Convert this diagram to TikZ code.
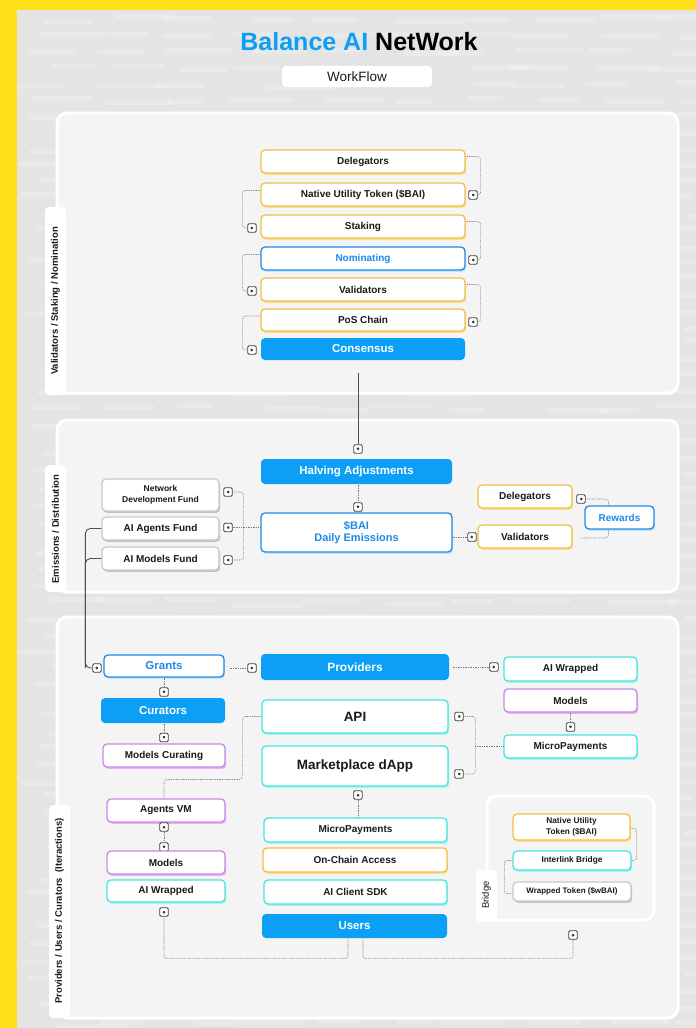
\documentclass[tikz,border=0pt]{standalone}
\usepackage{fontspec}
\setmainfont{Liberation Sans}
\usetikzlibrary{shadows}
\definecolor{yel}{HTML}{FFE01A}
\definecolor{bgg}{HTML}{E4E4E4}
\definecolor{pnl}{HTML}{F4F4F4}
\definecolor{bluef}{HTML}{0BA0F5}
\definecolor{blueb}{HTML}{1E8AE8}
\definecolor{bluesh}{HTML}{C4E4FA}
\definecolor{orng}{HTML}{F4BF45}
\definecolor{orngsh}{HTML}{F9DE9A}
\definecolor{cyn}{HTML}{45E6E0}
\definecolor{cynsh}{HTML}{A8F3EF}
\definecolor{prp}{HTML}{C48BE6}
\definecolor{prpsh}{HTML}{EFAEF2}
\definecolor{gry}{HTML}{C9C9C9}
\definecolor{grysh}{HTML}{C2C2C2}
\definecolor{txt}{HTML}{1A1A1A}
\definecolor{icg}{HTML}{404040}
\definecolor{dotg}{HTML}{7A7A7A}
\definecolor{solg}{HTML}{505050}
\tikzset{
  base/.style={rounded corners=4pt, fill=white, line width=1.3pt, inner sep=0pt, align=center,
    font=\bfseries\fontsize{10}{11.5}\selectfont, text=txt},
  obox/.style={base, draw=orng, drop shadow={shadow xshift=1.2pt, shadow yshift=-1.8pt, fill=orngsh, opacity=1}},
  cbox/.style={base, draw=cyn, drop shadow={shadow xshift=1.2pt, shadow yshift=-1.8pt, fill=cynsh, opacity=1}},
  pbox/.style={base, draw=prp, drop shadow={shadow xshift=1.2pt, shadow yshift=-1.8pt, fill=prpsh, opacity=1}},
  gbox/.style={base, draw=gry, drop shadow={shadow xshift=1.2pt, shadow yshift=-1.8pt, fill=grysh, opacity=1}},
  bbox/.style={base, draw=blueb, text=blueb, drop shadow={shadow xshift=1.2pt, shadow yshift=-1.8pt, fill=bluesh, opacity=1}},
  bfill/.style={base, fill=bluef, draw=none, text=white, font=\bfseries\fontsize{11.5}{13}\selectfont},
  icn/.style={draw=icg, fill=white, rounded corners=1.2pt, minimum size=8.5pt, inner sep=0pt, line width=0.8pt},
  icR/.style={icn, path picture={\fill[icg] ([xshift=-1.4pt,yshift=2pt]path picture bounding box.center) -- ([xshift=1.8pt]path picture bounding box.center) -- ([xshift=-1.4pt,yshift=-2pt]path picture bounding box.center) -- cycle;}},
  icL/.style={icn, path picture={\fill[icg] ([xshift=1.4pt,yshift=2pt]path picture bounding box.center) -- ([xshift=-1.8pt]path picture bounding box.center) -- ([xshift=1.4pt,yshift=-2pt]path picture bounding box.center) -- cycle;}},
  icD/.style={icn, path picture={\fill[icg] ([xshift=-2pt,yshift=1.4pt]path picture bounding box.center) -- ([yshift=-1.8pt]path picture bounding box.center) -- ([xshift=2pt,yshift=1.4pt]path picture bounding box.center) -- cycle;}},
  icU/.style={icn, path picture={\fill[icg] ([xshift=-2pt,yshift=-1.4pt]path picture bounding box.center) -- ([yshift=1.8pt]path picture bounding box.center) -- ([xshift=2pt,yshift=-1.4pt]path picture bounding box.center) -- cycle;}},
  dln/.style={draw=dotg, line width=0.6pt, dash pattern=on 0.8pt off 0.9pt, rounded corners=3pt},
  sln/.style={draw=solg, line width=0.9pt, rounded corners=5pt},
  panel/.style={fill=pnl, draw=white, line width=3pt, rounded corners=10pt},
  tab/.style={fill=white, rounded corners=4pt},
  tabtxt/.style={rotate=90, font=\bfseries\fontsize{9.5}{11}\selectfont, text=txt}
}
\newcommand\bx[7]{\node[#1, minimum width={(#5-#3)*1pt}, minimum height={(#6-#4)*1pt}] (#2) at ({(#3+#5)/2},{(#4+#6)/2}) {#7};}
\begin{document}
\begin{tikzpicture}[x=1pt,y=-1pt]
\useasboundingbox (0,0) rectangle (696,1028);
\fill[yel] (0,0) rectangle (696,1028);
\fill[bgg] (17,10) rectangle (696,1028);
% background stripes
\pgfmathsetseed{11}
\foreach \r in {0,...,62}{
  \foreach \c in {0,...,9}{
    \pgfmathsetmacro{\xx}{17+\c*70+rnd*40}
    \pgfmathsetmacro{\yy}{14+\r*16.2+rnd*6}
    \pgfmathsetmacro{\ww}{35+rnd*40}
    \fill[white, opacity=0.22] (\xx,\yy) rectangle ++(\ww,5);
  }
}
% title
\node[font=\bfseries\fontsize{25}{29}\selectfont] (title) at (359,42) {\textcolor{bluef}{Balance AI} \textcolor{black}{NetWork}};
\fill[white, rounded corners=4pt] (282,66) rectangle (432,87);
\node[font=\fontsize{13.5}{15}\selectfont, text=txt] (wf) at (357,76.5) {WorkFlow};

% panels
\draw[panel] (57,113) rectangle (678,393);
\fill[tab] (45,207) rectangle (66,395);
\node[tabtxt] (t1) at (55.5,301) {Validators / Staking / Nomination};

\draw[panel] (57,420) rectangle (678,592);
\fill[tab] (45,465) rectangle (66,592);
\node[tabtxt] (t2) at (55.5,529) {Emissions / Distribution};

\draw[panel] (57,617) rectangle (678,1018);
\fill[tab] (49,805) rectangle (70,1018);
\node[tabtxt] (t3) at (59.5,911) {Providers / Users / Curators~~(Iteractions)};

% ---------- section 1
\bx{obox}{s1a}{261}{150}{465}{173}{Delegators}
\bx{obox}{s1b}{261}{183}{465}{206}{Native Utility Token (\$BAI)}
\bx{obox}{s1c}{261}{215}{465}{238}{Staking}
\bx{bbox}{s1d}{261}{247}{465}{270}{Nominating}
\bx{obox}{s1e}{261}{278}{465}{301}{Validators}
\bx{obox}{s1f}{261}{309}{465}{331}{PoS Chain}
\bx{bfill}{s1g}{261}{338}{465}{360}{Consensus}

\node[icL] (i1) at (473,195) {};
\node[icR] (i2) at (252,228) {};
\node[icL] (i3) at (473,260) {};
\node[icR] (i4) at (252,291) {};
\node[icL] (i5) at (473,322) {};
\node[icR] (i6) at (252,350) {};

\draw[dln] ([yshift=5pt]s1a.east) -- ++(15,0) |- (i1.east);
\draw[dln] ([yshift=4pt]s1b.west) -- ++(-18,0) |- (i2.west);
\draw[dln] ([yshift=5pt]s1c.east) -- ++(15,0) |- (i3.east);
\draw[dln] ([yshift=4pt]s1d.west) -- ++(-18,0) |- (i4.west);
\draw[dln] ([yshift=5pt]s1e.east) -- ++(15,0) |- (i5.east);
\draw[dln] ([yshift=4pt]s1f.west) -- ++(-18,0) |- (i6.west);

\node[icD] (i7) at (358,449) {};
\draw[draw=solg, line width=0.9pt] ([yshift=-12pt,xshift=-5pt]s1g.south) -- (i7.north);

% ---------- section 2
\bx{bfill}{hv}{261}{459}{452}{484}{Halving Adjustments}
\node[icD] (i8) at (358,507) {};
\draw[dln] (hv.south -| i8) -- (i8.north);
\bx{bbox}{em}{261}{513}{452}{552}{\fontsize{11}{13}\selectfont\$BAI\\\fontsize{11}{13}\selectfont Daily Emissions}

\bx{gbox}{f1}{102}{479}{219}{511}{\fontsize{8.5}{10}\selectfont Network\\\fontsize{8.5}{10}\selectfont Development Fund}
\bx{gbox}{f2}{102}{517}{219}{540}{AI Agents Fund}
\bx{gbox}{f3}{102}{547}{219}{570}{AI Models Fund}
\node[icL] (i9) at (228,492) {};
\node[icL] (i10) at (228,527.5) {};
\node[icL] (i11) at (228,560) {};
\draw[dln] (i10.east -| em.west) -- (i10.east);
\draw[dln] (i9.east) -- ++(11,0) |- (i11.east);

\bx{obox}{d2}{478}{485}{572}{508}{Delegators}
\bx{obox}{v2}{478}{525}{572}{548}{Validators}
\bx{bbox}{rw}{585}{506}{654}{529}{Rewards}
\node[icL] (i12) at (581,499) {};
\node[icR] (i13) at (472,537) {};
\draw[dln] ([xshift=-11pt]rw.north) |- (i12.east);
\draw[dln] ([xshift=-11pt]rw.south) |- ([xshift=7pt,yshift=-1.5pt]v2.east);
\draw[dln] (i13.west -| em.east) -- (i13.west);

% ---------- section 3
\bx{bbox}{gr}{104}{655}{224}{677}{\fontsize{11.5}{13}\selectfont Grants}
\node[icR] (i14) at (97,668) {};
\draw[sln] (f2.west) -| ([xshift=-7pt]i14.west) -- (i14.west);
\draw[sln] (f3.west) -| ([xshift=-7pt]i14.west);

\bx{bfill}{pv}{261}{654}{449}{680}{\fontsize{12}{14}\selectfont Providers}
\node[icR] (i15) at (252,668) {};
\draw[dln] ([xshift=5pt]gr.east |- i15) -- (i15.west);
\node[icR] (i16) at (494,667) {};
\draw[dln] ([xshift=3pt]pv.east |- i16) -- (i16.west);

\bx{cbox}{aw}{504}{657}{637}{681}{AI Wrapped}
\bx{pbox}{md}{504}{689}{637}{712}{Models}
\node[icD] (i17) at (570.5,727) {};
\draw[dln] (md.south) -- (i17.north);
\bx{cbox}{mp}{504}{735}{637}{758}{MicroPayments}

\bx{cbox}{api}{262}{700}{448}{733}{\fontsize{13.5}{15}\selectfont API}
\bx{cbox}{mk}{262}{746}{448}{786}{\fontsize{13.5}{15}\selectfont Marketplace dApp}
\node[icL] (i18) at (459,716.5) {};
\node[icL] (i19) at (459,774) {};
\coordinate (j1) at (475,0);
\draw[dln] (i18.east) -- ++(12,0) |- (i19.east);
\draw[dln] (mp.west) -- (j1 |- mp.west);
\node[icU] (i20) at (358,795) {};

\bx{bfill}{cu}{101}{698}{225}{723}{Curators}
\node[icD] (i21) at (164,692) {};
\draw[dln] (gr.south -| i21) -- (i21.north);
\node[icD] (i22) at (164,737.5) {};
\draw[dln] (cu.south -| i22) -- (i22.north);
\bx{pbox}{mc}{103}{744}{225}{767}{Models Curating}

\bx{pbox}{av}{107}{799}{225}{822}{Agents VM}
\draw[dln] (api.west) -- ++(-19,0) -- ++(0,63) -| (av.north -| i22);
\node[icU] (i23) at (164,827) {};
\node[icD] (i24) at (164,847) {};
\draw[dln] (i23.south) -- (i24.north);
\bx{pbox}{ml}{107}{851}{225}{874}{Models}
\bx{cbox}{awl}{107}{880}{225}{902}{AI Wrapped}
\node[icU] (i25) at (164,912) {};

\bx{cbox}{mp2}{264}{818}{447}{842}{MicroPayments}
\draw[dln] (mp2.north -| i20) -- (i20.south);
\bx{obox}{oc}{263}{848}{447}{872}{On-Chain Access}
\bx{cbox}{sdk}{264}{880}{447}{904}{AI Client SDK}
\bx{bfill}{us}{262}{914}{447}{938}{Users}

% bridge
\draw[panel] (487,796) rectangle (654,920);
\fill[tab] (476,870) rectangle (497,922);
\node[rotate=90, font=\fontsize{9.5}{11}\selectfont, text=txt] (tb) at (486.5,895) {Bridge};
\bx{obox}{bn}{513}{814}{630}{840}{\fontsize{8.3}{9.5}\selectfont Native Utility\\\fontsize{8.3}{9.5}\selectfont Token (\$BAI)}
\bx{cbox}{bi}{513}{851}{631}{870}{\fontsize{8.3}{9.5}\selectfont Interlink Bridge}
\bx{gbox}{bw}{513}{882}{631}{901}{\fontsize{8}{9.5}\selectfont Wrapped Token (\$wBAI)}
\draw[dln] ([yshift=-1.5pt]bn.east) -- ++(6,0) |- (bi.east);
\draw[dln] (bi.west) -- ++(-8,0) |- ([yshift=-2pt]bw.west);

\node[icU] (i26) at (573,935) {};
\draw[dln] ([xshift=-6.5pt]us.south) -- ++(0,20) -| (i25.south);
\draw[dln] ([xshift=8.5pt]us.south) -- ++(0,20) -| (i26.south);
\end{tikzpicture}
\end{document}
